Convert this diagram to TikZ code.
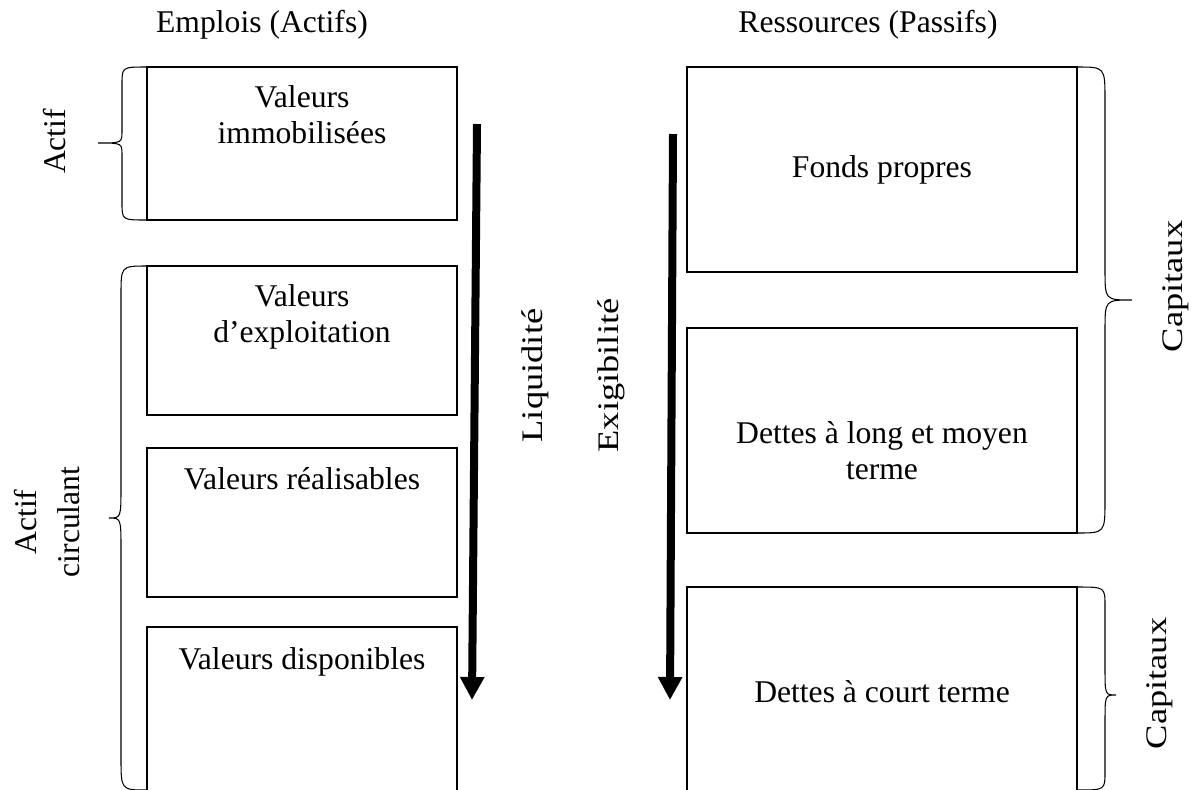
\documentclass[tikz,border=0pt]{standalone}
\usepackage{fontspec}
\setmainfont{Liberation Serif}
\usepackage{tikz}
\usetikzlibrary{arrows.meta, positioning}

\tikzset{
  poste/.style={draw, line width=0.75pt, inner sep=0pt, outer sep=0pt},
  postetxt/.style={inner sep=0pt, align=center, font=\fontsize{18}{20.5}\selectfont},
  titre/.style={font=\fontsize{18}{21}\selectfont},
  cote/.style={rotate=90, xscale=1.22, font=\fontsize{17}{20}\selectfont},
  accolade/.style={line width=0.6pt},
  sens/.style={line width=0.16cm, -{Triangle[width=0.46cm,length=0.46cm]}},
}

\begin{document}
\begin{tikzpicture}[x=0.02cm, y=-0.02cm]
\useasboundingbox (0,0) rectangle (1203,789);

% Titres
\node[titre] (emplois) at (262,25) {Emplois (Actifs)};
\node[titre] (ressources) at (868,25) {Ressources (Passifs)};

% Emplois
\node[poste, minimum width=6.2cm, minimum height=3.06cm] (vi) at (302,143.5) {};
\node[poste, minimum width=6.2cm, minimum height=2.98cm] (ve) at (302,340.5) {};
\node[poste, minimum width=6.2cm, minimum height=2.98cm] (vr) at (302,522.5) {};
\node[poste, minimum width=6.2cm, minimum height=3.46cm] (vd) at (302,713.5) {};
\node[postetxt, below=0.36cm of vi.north] (vitxt) {Valeurs\\immobilisées};
\node[postetxt, below=0.36cm of ve.north] (vetxt) {Valeurs\\d’exploitation};
\node[postetxt, below=0.38cm of vr.north] (vrtxt) {Valeurs réalisables};
\node[postetxt, below=0.40cm of vd.north] (vdtxt) {Valeurs disponibles};

% Ressources
\node[poste, minimum width=7.8cm, minimum height=4.1cm] (fp) at (882,169.5) {};
\node[poste, minimum width=7.8cm, minimum height=4.1cm] (dlmt) at (882,430.5) {};
\node[poste, minimum width=7.8cm, minimum height=4.26cm] (dct) at (882,693.5) {};
\node[postetxt, below=1.76cm of fp.north] (fptxt) {Fonds propres};
\node[postetxt, below=1.86cm of dlmt.north] (dlmttxt) {Dettes à long et moyen\\terme};
\node[postetxt, below=1.86cm of dct.north] (dcttxt) {Dettes à court terme};

% Accolades gauche
\draw[accolade] (147,67) .. controls (122,67) .. (122,84) -- (122,131)
  .. controls (122,143) .. (98,143) .. controls (122,143) .. (122,155)
  -- (122,203) .. controls (122,220) .. (147,220);
\draw[accolade] (147,266) .. controls (121,266) .. (121,295) -- (121,486)
  .. controls (121,518) .. (109,518) .. controls (121,518) .. (121,550)
  -- (121,758) .. controls (121,790) .. (147,790);
\node[titre, rotate=90] (actif) at (55,141.5) {Actif};
\node[rotate=90, align=center, font=\fontsize{18}{24.5}\selectfont] (actifcirc) at (47,522) {Actif\\circulant};

% Accolades droite
\draw[accolade] (1077,67) .. controls (1105,67) .. (1105,100) -- (1105,270)
  .. controls (1105,300) .. (1132,300) .. controls (1105,300) .. (1105,330)
  -- (1105,500) .. controls (1105,533) .. (1077,533);
\draw[accolade] (1077,587) .. controls (1105,587) .. (1105,606) -- (1105,668)
  .. controls (1105,695) .. (1116,695) .. controls (1105,695) .. (1105,722)
  -- (1105,772) .. controls (1105,790) .. (1077,790);
\node[cote] (capitaux) at (1175.5,286.5) {Capitaux};
\node[cote] (capitauxct) at (1159.5,683.5) {Capitaux};

% Liquidite / exigibilite
\coordinate (liqhaut) at (477,124);
\coordinate (liqbas) at (472,700);
\coordinate (exihaut) at (673,134);
\coordinate (exibas) at (670,700);
\draw[sens] (liqhaut) -- (liqbas);
\draw[sens] (exihaut) -- (exibas);
\node[cote] (liquidite) at (535,375.5) {Liquidité};
\node[cote] (exigibilite) at (611,375.5) {Exigibilité};
\end{tikzpicture}
\end{document}
